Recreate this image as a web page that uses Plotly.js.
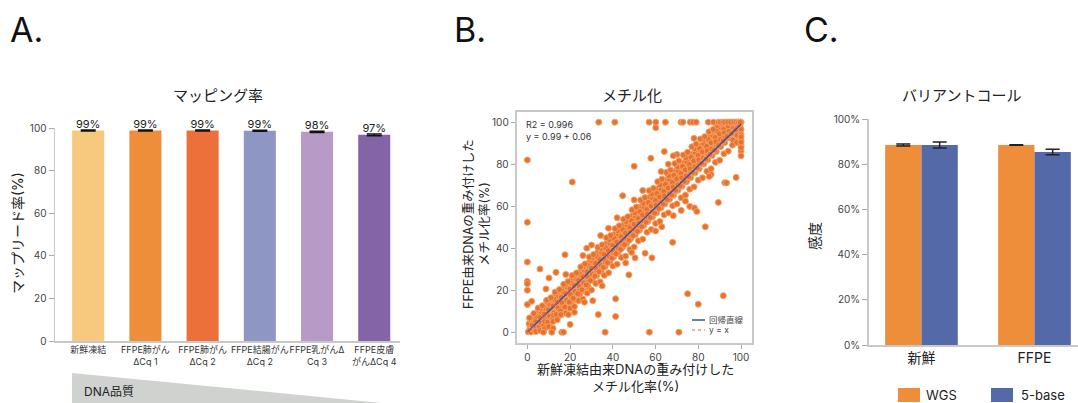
<!DOCTYPE html>
<html><head><meta charset="utf-8">
<script src="https://cdn.plot.ly/plotly-3.0.1.min.js"></script>
<style>html,body{margin:0;padding:0;background:#fff}#chart{width:1078px;height:403px}</style>
</head><body><div id="chart"></div>
<script>
// ---------- Panel A: mapping rate ----------
const mapCategories = ['新鮮凍結', 'FFPE肺がんΔCq 1', 'FFPE肺がんΔCq 2', 'FFPE結腸がんΔCq 2', 'FFPE乳がんΔCq 3', 'FFPE皮膚がんΔCq 4'];
const mapTickLabels = ['新鮮凍結', 'FFPE肺がん<br>ΔCq 1', 'FFPE肺がん<br>ΔCq 2', 'FFPE結腸がん<br>ΔCq 2', 'FFPE乳がんΔ<br>Cq 3', 'FFPE皮膚<br>がんΔCq 4'];
const mapRates = [98.8, 98.8, 98.8, 98.7, 98.2, 96.8];
const mapErr = [0.25, 0.25, 0.25, 0.25, 0.3, 0.4];
const mapLabels = ['99%', '99%', '99%', '99%', '98%', '97%'];
const mapColors = ['#F7C97E', '#EE8E3A', '#EC703A', '#8E96C4', '#B79BC6', '#8464A6'];

// ---------- Panel B: methylation (fresh frozen vs FFPE) ----------
const bandFresh = [
 0.4,1.3,0.8,1.7,1.1, 2.5,3.4,2.8,3.6,3.1, 4.4,5.3,4.8,5.7,5.1, 6.4,7.4,6.8,7.6,7.1,
 8.4,9.5,8.8,9.7,9.1, 10.4,11.4,10.8,11.7,11.1, 12.4,13.5,12.8,13.6,13.1, 14.5,15.4,14.8,15.7,15.1,
 16.4,17.5,16.8,17.6,17.2, 18.5,19.3,18.8,19.7,19.1, 20.4,21.5,20.8,21.6,21.1, 22.5,23.4,22.8,23.7,23.2,
 24.4,25.5,24.8,25.6,25.1, 26.5,27.3,26.8,27.7,27.2, 28.4,29.5,28.9,29.6,29.1, 30.5,31.4,30.8,31.7,31.2,
 32.4,33.5,32.9,33.6,33.1, 34.5,35.3,34.8,35.7,35.2, 36.4,37.5,36.9,37.6,37.1, 38.5,39.4,38.8,39.7,39.2,
 40.4,41.5,40.9,41.6,41.1, 42.5,43.3,42.8,43.7,43.2, 44.4,45.5,44.9,45.6,45.1, 46.5,47.4,46.8,47.7,47.2,
 48.4,49.5,48.9,49.6,49.1, 50.5,51.3,50.8,51.7,51.2, 52.4,53.5,52.9,53.6,53.1, 54.5,55.4,54.8,55.7,55.2,
 56.4,57.5,56.9,57.6,57.1, 58.5,59.3,58.8,59.7,59.2, 60.4,61.5,60.9,61.6,61.1, 62.5,63.4,62.8,63.7,63.2,
 64.4,65.5,64.9,65.6,65.1, 66.5,67.3,66.8,67.7,67.2, 68.4,69.5,68.9,69.6,69.1, 70.5,71.4,70.8,71.7,71.2,
 72.4,73.5,72.9,73.6,73.1, 74.5,75.3,74.8,75.7,75.2, 76.4,77.5,76.9,77.6,77.1, 78.5,79.4,78.8,79.7,79.2,
 80.4,81.5,80.9,81.6,81.1, 82.5,83.3,82.8,83.7,83.2, 84.4,85.5,84.9,85.6,85.1, 86.5,87.4,86.8,87.7,87.2,
 88.4,89.5,88.9,89.6,89.1, 90.5,91.3,90.8,91.7,91.2, 92.4,93.5,92.9,93.6,93.1, 94.5,95.4,94.8,95.7,95.2,
 96.4,97.5,96.9,97.6,97.1, 98.5,99.3,98.8,99.7,99.2
];
const bandFFPE = [
 0.2,2.1,4.0,5.6,0.9, 0.6,2.4,4.9,7.3,1.5, 1.2,3.9,6.3,8.8,10.4, 1.9,4.8,7.9,10.6,3.2,
 2.3,6.1,9.4,12.2,14.5, 4.2,7.3,10.9,14.1,5.8, 6.0,9.8,12.7,16.3,18.1, 7.8,10.6,14.9,17.8,12.4,
 9.6,13.2,16.4,19.9,21.6, 11.5,14.6,18.7,21.8,16.2, 13.8,16.9,20.2,23.9,25.4, 15.4,18.5,22.8,25.6,20.1,
 17.9,21.1,24.3,28.2,29.5, 19.6,22.4,26.9,29.8,24.5, 21.8,25.2,28.4,32.1,33.4, 24.8,27.6,31.5,34.3,29.0,
 26.9,29.8,33.2,36.5,38.2, 29.1,31.9,35.8,38.6,33.4, 31.2,34.4,37.6,40.8,42.3, 33.6,36.2,40.1,43.1,37.8,
 35.9,38.7,41.8,45.2,46.8, 38.1,40.5,44.3,47.6,42.2, 40.2,43.1,46.2,49.5,51.1, 42.3,44.8,48.7,51.9,46.1,
 44.6,47.3,50.4,53.8,55.6, 46.4,48.9,52.9,56.1,50.6, 48.5,51.4,54.6,58.0,59.7, 50.8,53.2,57.1,60.3,54.6,
 52.7,55.8,58.7,62.4,64.1, 54.9,57.4,61.2,64.6,58.8, 56.8,59.9,62.8,66.5,68.3, 59.2,61.5,65.3,68.7,62.9,
 61.1,64.2,67.0,70.6,72.4, 63.3,65.8,69.6,72.9,67.1, 65.2,68.3,71.1,74.8,76.5, 67.6,69.9,73.7,76.9,71.0,
 69.5,72.4,75.2,78.8,80.6, 71.7,74.0,77.8,81.2,75.3, 73.6,76.6,79.4,83.1,84.7, 75.9,78.1,82.0,85.2,79.4,
 77.8,80.7,83.5,87.2,88.8, 80.1,82.2,86.1,89.3,83.5, 82.0,84.9,87.6,91.1,92.9, 84.2,86.4,90.2,93.4,87.6,
 86.1,89.0,91.7,95.2,96.8, 88.4,90.5,94.3,97.4,91.8, 90.3,93.1,95.8,98.9,100, 92.6,94.7,98.1,100,96.0,
 94.5,97.2,99.3,100,92.1, 96.8,98.6,100,100,94.4
];
const band2Fresh = [
 1.6,2.4,2.1,2.7,1.9, 3.6,4.5,3.9,4.3,4.1, 5.5,6.4,5.9,6.6,6.2, 7.6,8.4,7.9,8.5,8.1,
 9.5,10.4,9.9,10.6,10.2, 11.6,12.4,11.9,12.6,12.2, 13.5,14.4,13.9,14.6,14.1, 15.6,16.4,15.9,16.6,16.2,
 17.5,18.4,17.9,18.6,18.2, 19.6,20.4,19.9,20.6,20.2, 21.5,22.4,21.9,22.6,22.2, 23.6,24.4,23.9,24.6,24.2,
 25.5,26.4,25.9,26.6,26.2, 27.6,28.4,27.9,28.6,28.2, 29.5,30.4,29.9,30.6,30.2, 31.6,32.4,31.9,32.6,32.2,
 33.5,34.4,33.9,34.6,34.2, 35.6,36.4,35.9,36.6,36.2, 37.5,38.4,37.9,38.6,38.2, 39.6,40.4,39.9,40.6,40.2,
 41.5,42.4,41.9,42.6,42.2, 43.6,44.4,43.9,44.6,44.2, 45.5,46.4,45.9,46.6,46.2, 47.6,48.4,47.9,48.6,48.2,
 49.5,50.4,49.9,50.6,50.2, 51.6,52.4,51.9,52.6,52.2, 53.5,54.4,53.9,54.6,54.2, 55.6,56.4,55.9,56.6,56.2,
 57.5,58.4,57.9,58.6,58.2, 59.6,60.4,59.9,60.6,60.2, 61.5,62.4,61.9,62.6,62.2, 63.6,64.4,63.9,64.6,64.2,
 65.5,66.4,65.9,66.6,66.2, 67.6,68.4,67.9,68.6,68.2, 69.5,70.4,69.9,70.6,70.2, 71.6,72.4,71.9,72.6,72.2,
 73.5,74.4,73.9,74.6,74.2, 75.6,76.4,75.9,76.6,76.2, 77.5,78.4,77.9,78.6,78.2, 79.6,80.4,79.9,80.6,80.2,
 81.5,82.4,81.9,82.6,82.2, 83.6,84.4,83.9,84.6,84.2, 85.5,86.4,85.9,86.6,86.2, 87.6,88.4,87.9,88.6,88.2,
 89.5,90.4,89.9,90.6,90.2, 91.6,92.4,91.9,92.6,92.2, 93.5,94.4,93.9,94.6,94.2, 95.6,96.4,95.9,96.6,96.2,
 97.5,98.4,97.9,98.6,98.2, 99.6,100,99.9,100,99.8
];
const band2FFPE = [
 0.1,1.6,3.4,5.9,6.8, 0.9,3.1,5.2,7.6,2.0, 2.5,4.4,7.1,9.7,11.1, 3.4,6.2,8.6,11.4,5.1,
 4.8,7.7,10.8,13.2,15.4, 6.1,9.2,12.5,15.6,8.0, 8.4,11.6,14.3,17.4,19.2, 10.2,12.9,16.7,19.3,14.1,
 12.0,15.3,18.4,21.5,23.0, 14.3,16.8,20.6,23.3,17.9, 16.1,19.4,22.3,25.6,27.2, 18.4,20.9,24.7,27.5,22.0,
 20.2,23.5,26.4,29.6,31.3, 22.6,25.0,28.8,31.7,26.4, 24.6,27.6,30.5,33.8,35.5, 26.7,29.3,32.9,36.0,30.6,
 28.8,31.8,34.6,38.1,39.8, 30.9,33.4,37.1,40.3,34.7, 33.1,35.9,38.8,42.4,44.0, 35.2,37.7,41.3,44.6,39.0,
 37.4,40.2,43.0,46.7,48.3, 39.5,41.9,45.5,48.9,43.4, 41.7,44.5,47.2,51.0,52.7, 43.8,46.2,49.8,53.2,47.6,
 46.0,48.7,51.5,55.3,57.0, 48.1,50.5,54.1,57.5,52.0, 50.3,53.0,55.8,59.6,61.4, 52.4,54.8,58.4,61.8,56.3,
 54.6,57.3,60.1,63.9,65.8, 56.7,59.1,62.7,66.1,60.6, 58.9,61.6,64.4,68.2,70.1, 61.0,63.4,67.0,70.4,64.9,
 63.2,65.9,68.7,72.5,74.5, 65.3,67.7,71.3,74.7,69.2, 67.5,70.2,73.0,76.8,78.8, 69.6,72.0,75.6,79.0,73.5,
 71.8,74.5,77.3,81.1,83.1, 73.9,76.3,79.9,83.3,77.8, 76.1,78.8,81.6,85.4,87.4, 78.2,80.6,84.2,87.6,82.1,
 80.4,83.1,85.9,89.7,91.6, 82.5,84.9,88.5,91.9,86.4, 84.7,87.4,90.2,93.8,95.6, 86.8,89.2,92.8,95.9,90.7,
 89.0,91.7,94.4,97.5,99.1, 91.1,93.5,96.8,99.2,95.0, 93.3,95.9,98.3,100,100, 94.7,97.6,99.5,100,91.5,
 96.2,98.9,100,100,93.8, 97.9,100,100,96.5,92.6
];
const edgeFresh = [
 4,6,8,10,12,14,16,18,20,22,24,26,28,30,32,34,36,38,40,42,44,46,48,50,52,54,56,58,60,62,64,66,68,70,72,74,76,78,80,82,84,86,88,90,92,94,96,98,100,100,100,100,
 1,3,5,7,9,11,13,15,17,19,21,23,25,27,29,31,33,35,37,39,41,43,45,47,49,51,53,55,57,59,61,63,65,67,69,71,73,75,77,79,81,83,85,87,89,91,
 18,30,42,54,66,70,78,22,35,46,60,74,86,12,50,38,26
];
const edgeFFPE = [
 0.3,0.8,1.5,2.6,5.1,5.9,8.3,9.1,11.4,12.2,15.0,15.8,18.6,20.1,23.2,24.0,27.1,28.3,31.5,32.4,35.6,36.2,39.4,40.6,43.5,44.3,47.6,48.9,51.8,52.7,55.9,56.8,60.2,61.1,64.0,65.3,68.1,69.2,72.4,73.5,76.6,77.8,80.9,81.9,85.0,86.2,89.1,90.3,86.4,89.0,91.6,94.1,
 6.8,8.9,11.5,12.6,15.2,16.4,19.1,20.3,22.8,24.1,27.0,28.2,31.1,32.5,35.8,37.0,40.4,41.6,45.0,46.1,49.3,50.7,53.8,55.0,58.3,59.6,62.9,64.1,67.4,68.5,71.7,72.9,76.1,77.2,80.3,81.6,84.4,85.7,88.3,89.6,92.0,93.1,95.4,96.6,98.5,99.2,
 27.5,41.5,54.5,67.5,80.0,84.6,92.3,9.5,22.1,33.0,48.2,62.4,75.1,1.8,63.0,49.5,36.5
];
const outlierFresh = [
 0,21,0,44.6,50,57.8,64.1,62.6,76,78.2,79.3,72,83.3,89.4,97.7,92.4,93.2,68,17.6,34.3,27.8,
 0,0,0,0,0,2,5.9,10.1,13.4,8.7,26.7,30.6,33.2,41.3,41.3,36.4,47.5,48.8,55.1,58.3,50.4,75,80,91.7,
 57.1,70.9,7.5,11.4,16.1,16.9,20,15.6,19.2,62.9,68.3,68.3,85.1,60.1,
 33.4,40.9,57,60.1,64.6,71.9,72.8,76.2,77.5,79,84.7,87.1,89.4,90.3,91.5,92.4,93.8,95.2,96.6,97.7,98.8,99.6,
 100,100,100,100
];
const outlierFFPE = [
 82,71.5,52.3,65,79,82.8,86,76.5,59.9,59.2,57.5,58,50.2,61.8,73.7,71.2,71.1,42.8,36.9,46,40,
 33.4,24.2,23.1,20,13.2,14.7,30.1,25.8,28.5,20.6,14.3,15,8.4,15.9,7.5,0,27.3,38,37.6,35.4,35.4,18.3,13.3,17.4,
 0,0,0,0,0,0,3.7,8.4,8.4,50.2,55.5,84,74.2,97.4,
 100,100,100,100,100,100,100,100,100,100,100,100,100,100,100,100,100,100,100,100,100,100,
 84,88,90.5,93
];
const regSlope = 0.99, regIntercept = 0.06;
const lineX = [0, 100];

// ---------- Panel C: variant call sensitivity ----------
const vcGroups = ['新鮮', 'FFPE'];
const vcSeriesNames = ['WGS', '5-base'];
const wgsSens = [0.885, 0.885];
const wgsErr = [0.004, 0.0015];
const fiveBaseSens = [0.885, 0.854];
const fiveBaseErr = [0.013, 0.012];
const vcColors = ['#EE8E3A', '#5469A8'];

// ---------- helpers ----------
const W = 1078, H = 403;
const px = v => v / W;
const py = v => 1 - v / H;
const FONT = 'Inter, "Noto Sans CJK JP", "Noto Sans", sans-serif';
const AX = '#c8c8c8';

const traces = [
  {type: 'bar', x: mapCategories, y: mapRates, width: 0.56, xaxis: 'x', yaxis: 'y',
   marker: {color: mapColors}, showlegend: false,
   error_y: {type: 'data', array: mapErr, color: '#111', thickness: 1.5, width: 7.5}},
  {type: 'scatter', mode: 'text', x: mapCategories, y: mapRates, text: mapLabels,
   textposition: 'top center', textfont: {size: 11, color: '#222', family: FONT},
   xaxis: 'x', yaxis: 'y', showlegend: false, cliponaxis: false, hoverinfo: 'skip'},
  {type: 'scatter', mode: 'markers', x: bandFresh.concat(band2Fresh, edgeFresh, outlierFresh),
   y: bandFFPE.concat(band2FFPE, edgeFFPE, outlierFFPE), xaxis: 'x2', yaxis: 'y2', showlegend: false,
   marker: {size: 6, color: '#E8712B', line: {color: '#F2A06A', width: 1}}},
  {type: 'scatter', mode: 'lines', x: lineX, y: lineX.map(v => regSlope * v + regIntercept),
   xaxis: 'x2', yaxis: 'y2', name: '回帰直線', showlegend: false,
   line: {color: '#2B55A8', width: 1.5}},
  {type: 'scatter', mode: 'lines', x: lineX, y: lineX, xaxis: 'x2', yaxis: 'y2', name: 'y = x',
   showlegend: false, line: {color: '#FF5050', width: 1, dash: 'dash'}},
  {type: 'bar', name: vcSeriesNames[0], x: vcGroups, y: wgsSens, xaxis: 'x3', yaxis: 'y3',
   marker: {color: vcColors[0]}, showlegend: false,
   error_y: {type: 'data', array: wgsErr, color: '#222', thickness: 1.5, width: 7}},
  {type: 'bar', name: vcSeriesNames[1], x: vcGroups, y: fiveBaseSens, xaxis: 'x3', yaxis: 'y3',
   marker: {color: vcColors[1]}, showlegend: false,
   error_y: {type: 'data', array: fiveBaseErr, color: '#222', thickness: 1.5, width: 7}}
];

const tickFont = {size: 10, color: '#444', family: FONT};
const annotations = [
  {text: 'A.', x: px(8), y: py(29), xanchor: 'left', font: {size: 34, color: '#111', family: FONT}},
  {text: 'B.', x: px(452), y: py(29), xanchor: 'left', font: {size: 34, color: '#111', family: FONT}},
  {text: 'C.', x: px(802), y: py(29), xanchor: 'left', font: {size: 34, color: '#111', family: FONT}},
  {text: 'マッピング率', x: px(218), y: py(95), font: {size: 15, color: '#222', family: FONT}},
  {text: 'メチル化', x: px(632), y: py(95), font: {size: 15, color: '#222', family: FONT}},
  {text: 'バリアントコール', x: px(961), y: py(95), font: {size: 15, color: '#222', family: FONT}},
  {text: 'マップリード率(%)', x: px(17), y: py(233), textangle: -90, font: {size: 14, color: '#222', family: FONT}},
  {text: 'FFPE由来DNAの重み付けした<br>メチル化率(%)', x: px(476), y: py(224), textangle: -90, font: {size: 12.5, color: '#222', family: FONT}},
  {text: '新鮮凍結由来DNAの重み付けした<br>メチル化率(%)', x: px(635), y: py(377), font: {size: 13, color: '#222', family: FONT}},
  {text: 'R2 = 0.996<br>y = 0.99 + 0.06', x: px(524), y: py(117), xanchor: 'left', yanchor: 'top', align: 'left', font: {size: 9, color: '#333', family: FONT}},
  {text: '回帰直線', x: px(707), y: py(320), xanchor: 'left', font: {size: 8.5, color: '#444', family: FONT}},
  {text: 'y = x', x: px(707), y: py(330), xanchor: 'left', font: {size: 8.5, color: '#444', family: FONT}},
  {text: '感度', x: px(814), y: py(236), textangle: -90, font: {size: 14, color: '#222', family: FONT}},
  {text: 'DNA品質', x: px(82), y: py(391), xanchor: 'left', font: {size: 12, color: '#222', family: FONT}},
  {text: vcSeriesNames[0], x: px(924), y: py(395), xanchor: 'left', font: {size: 13, color: '#222', family: FONT}},
  {text: vcSeriesNames[1], x: px(1019), y: py(395), xanchor: 'left', font: {size: 13, color: '#222', family: FONT}}
].map(a => Object.assign({xref: 'paper', yref: 'paper', showarrow: false, xanchor: 'center', yanchor: 'middle'}, a));

const shapes = [
  {type: 'path', xref: 'paper', yref: 'paper', fillcolor: '#D0D2D0', line: {width: 0},
   path: `M ${px(72)},${py(373)} L ${px(382)},${py(403)} L ${px(72)},${py(403)} Z`},
  {type: 'line', xref: 'paper', yref: 'paper', x0: px(692), x1: px(705), y0: py(320), y1: py(320), line: {color: '#2B55A8', width: 1.5}},
  {type: 'line', xref: 'paper', yref: 'paper', x0: px(692), x1: px(705), y0: py(330), y1: py(330), line: {color: '#FF5050', width: 1, dash: 'dot'}},
  {type: 'rect', xref: 'paper', yref: 'paper', x0: px(898), x1: px(920), y0: py(388), y1: py(402), fillcolor: vcColors[0], line: {width: 0}},
  {type: 'rect', xref: 'paper', yref: 'paper', x0: px(991), x1: px(1013), y0: py(388), y1: py(402), fillcolor: vcColors[1], line: {width: 0}}
];

const layout = {
  width: W, height: H, margin: {l: 0, r: 0, t: 0, b: 0, pad: 0},
  paper_bgcolor: '#fff', plot_bgcolor: 'rgba(0,0,0,0)',
  font: {family: FONT, color: '#333'}, showlegend: false,
  barmode: 'group', bargap: 0.357, bargroupgap: 0,
  xaxis: {domain: [px(55), px(400)], anchor: 'y', range: [-0.58, 5.45], type: 'category', tickangle: 0,
          tickvals: mapCategories, ticktext: mapTickLabels, tickfont: {size: 9, color: '#333', family: FONT},
          showline: true, linecolor: AX, linewidth: 1.5, ticks: '', showgrid: false, zeroline: false, fixedrange: true},
  yaxis: {domain: [py(341), py(128)], anchor: 'x', range: [0, 100], tickvals: [0, 20, 40, 60, 80, 100],
          ticks: 'outside', ticklen: 5, tickcolor: '#aaa', tickfont: tickFont,
          showline: true, linecolor: AX, linewidth: 1.5, showgrid: false, zeroline: false, fixedrange: true},
  xaxis2: {domain: [px(516.7), px(751.7)], anchor: 'y2', range: [-5, 105], tickvals: [0, 20, 40, 60, 80, 100],
           ticks: 'outside', ticklen: 4, tickcolor: '#aaa', tickfont: tickFont,
           showline: true, mirror: true, linecolor: AX, linewidth: 2, showgrid: false, zeroline: false, fixedrange: true},
  yaxis2: {domain: [py(342.7), py(111.7)], anchor: 'x2', range: [-5, 105], tickvals: [0, 20, 40, 60, 80, 100],
           ticks: 'outside', ticklen: 4, tickcolor: '#aaa', tickfont: tickFont,
           showline: true, mirror: true, linecolor: AX, linewidth: 2, showgrid: false, zeroline: false, fixedrange: true},
  xaxis3: {domain: [px(868.7), 1], anchor: 'y3', range: [-0.467, 1.385], type: 'category', tickangle: 0,
           tickfont: {size: 14, color: '#222', family: FONT},
           showline: true, linecolor: AX, linewidth: 1.5, ticks: '', showgrid: false, zeroline: false, fixedrange: true},
  yaxis3: {domain: [py(345), py(119)], anchor: 'x3', range: [0, 1], dtick: 0.2, tickformat: '.0%',
           ticks: 'outside', ticklen: 5, tickcolor: '#aaa', tickfont: tickFont,
           showline: true, linecolor: AX, linewidth: 1.5, showgrid: false, zeroline: false, fixedrange: true},
  annotations: annotations,
  shapes: shapes
};

Plotly.newPlot('chart', traces, layout, {displayModeBar: false, staticPlot: true});
</script></body></html>
